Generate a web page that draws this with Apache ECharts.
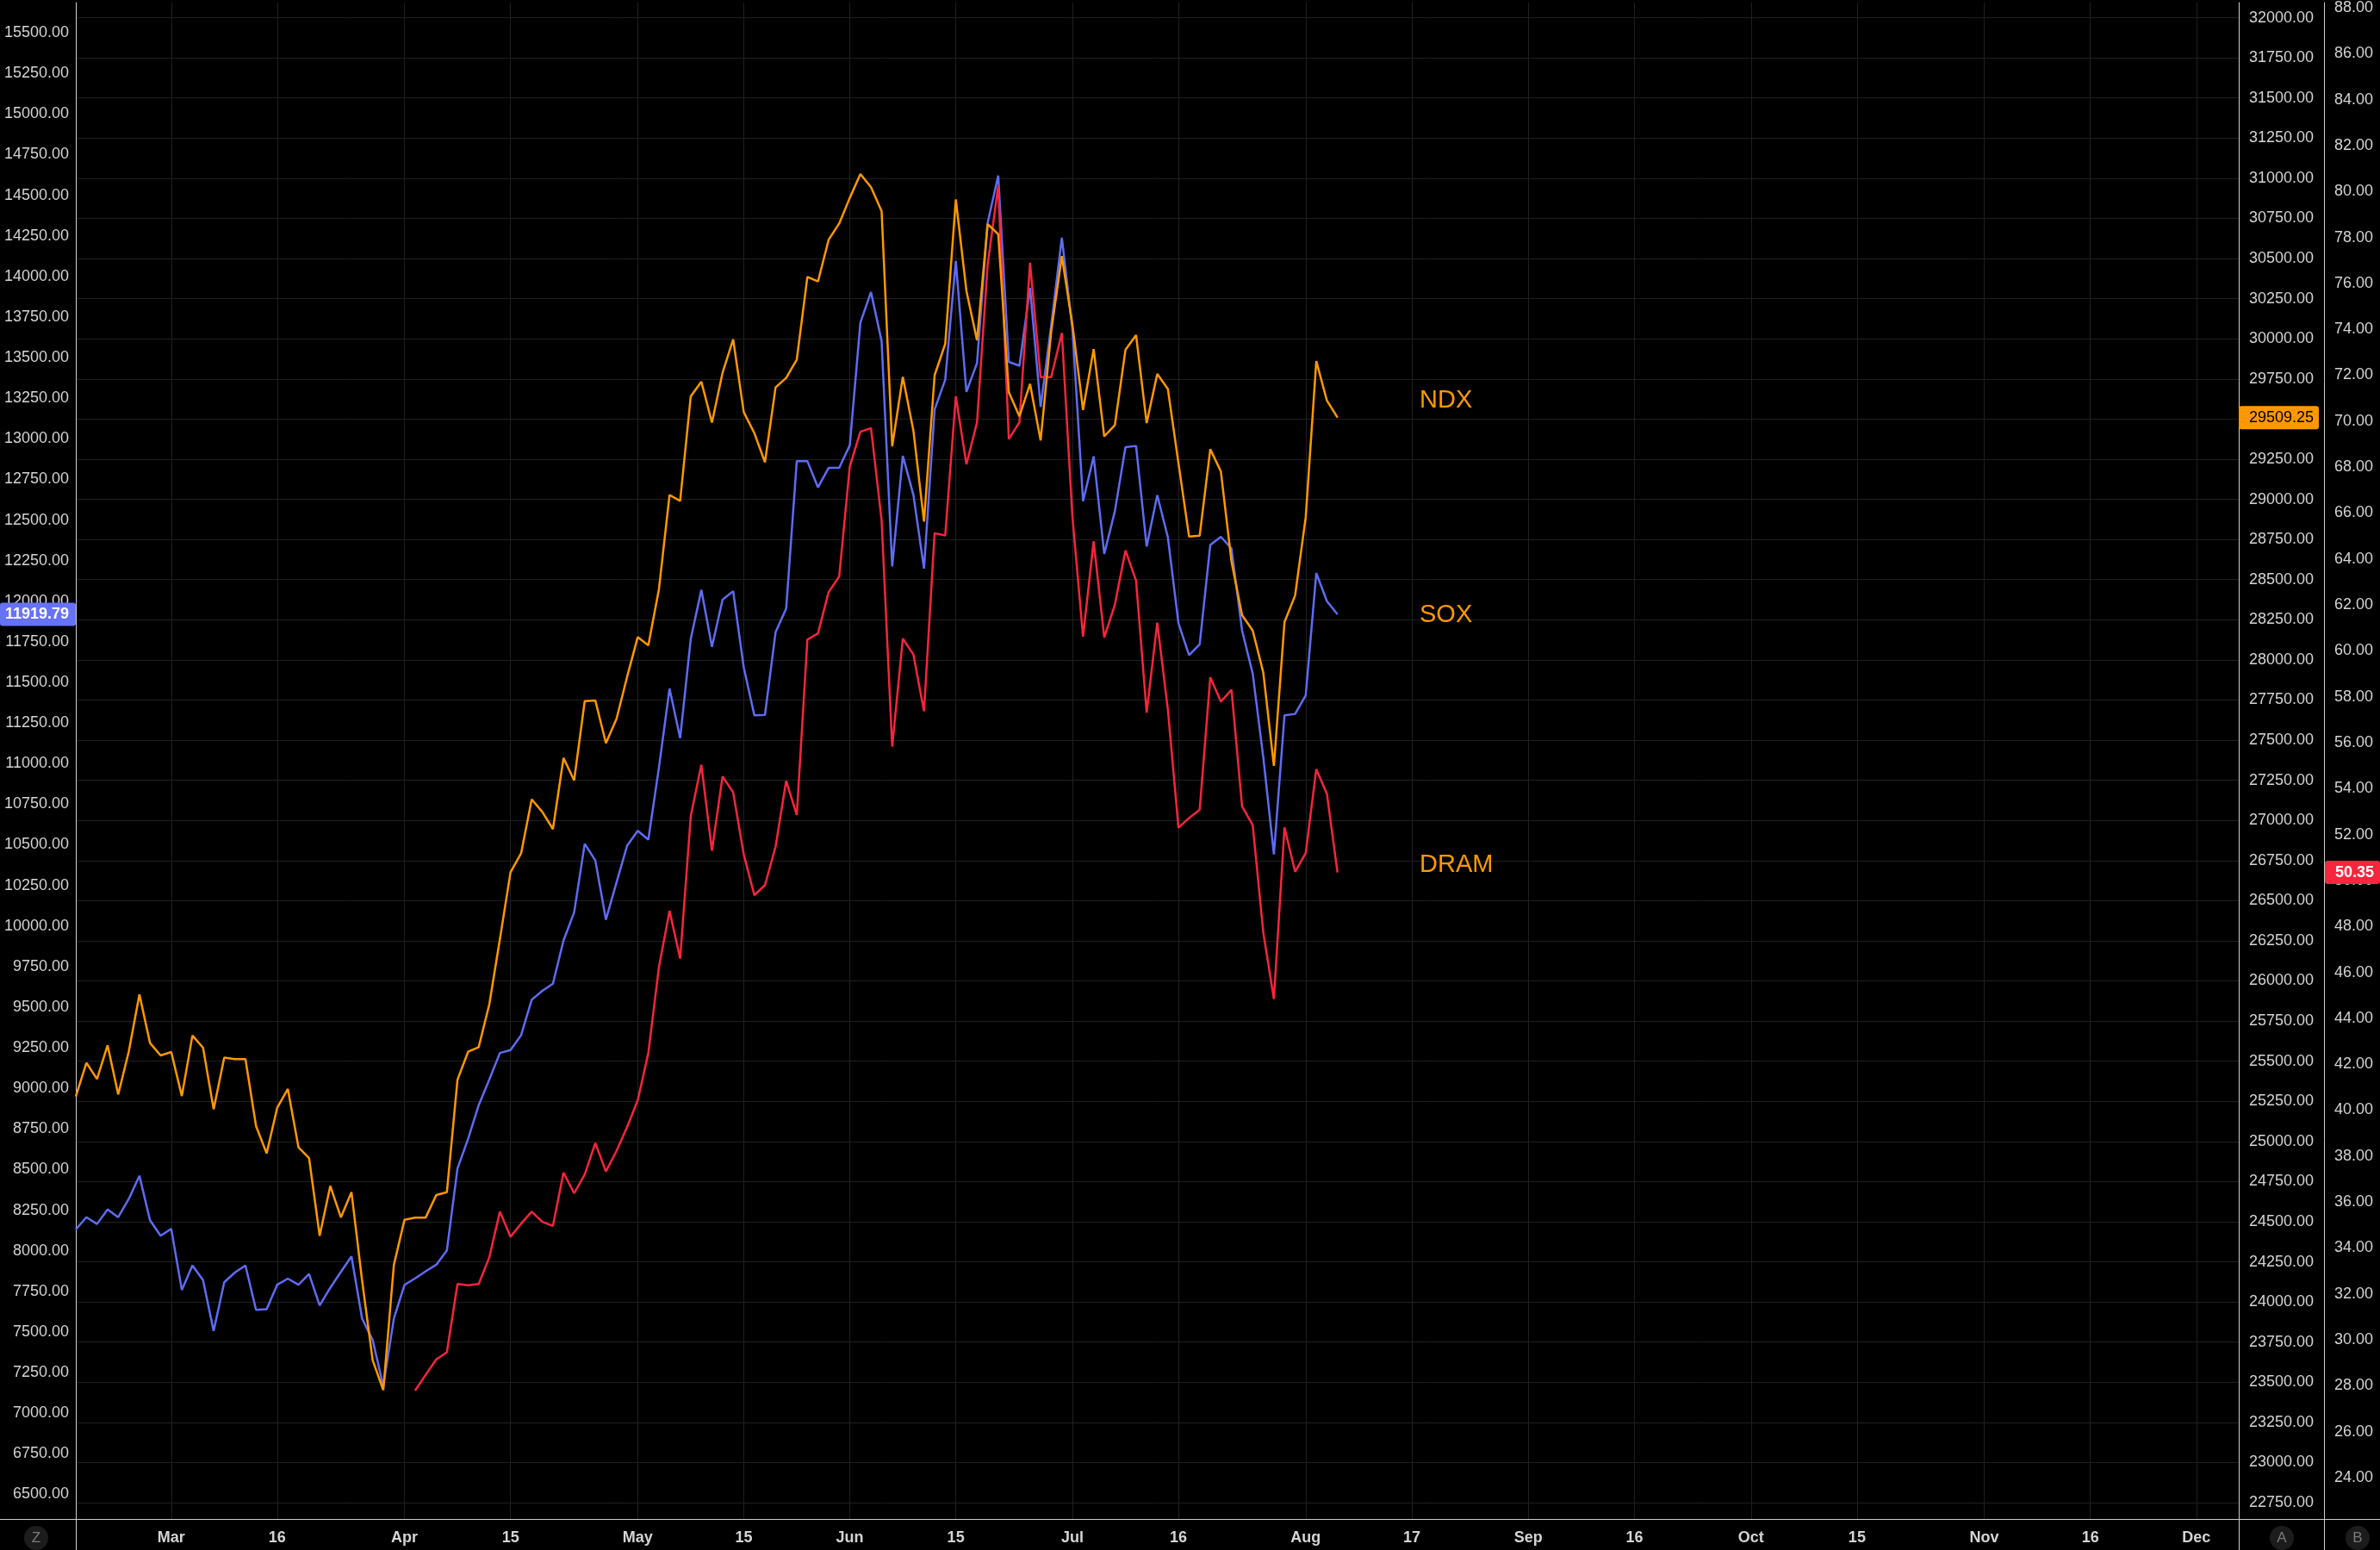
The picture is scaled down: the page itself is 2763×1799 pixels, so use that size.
<!DOCTYPE html>
<html>
<head>
<meta charset="utf-8">
<title>NDX / SOX / DRAM</title>
<script src="https://cdn.jsdelivr.net/npm/echarts@6/dist/echarts.min.js"></script>
<style>
  html, body { margin: 0; padding: 0; background: #000; }
  #main { width: 2763px; height: 1799px; }
</style>
</head>
<body>
<div id="main"></div>
<script>
// trading day index, 0 = first session of March
const firstDay = -9
const lastDay = 195
let days = []
for (let i = firstDay; i <= lastDay; i++) days.push(String(i))

// time scale labels (day index -> text)
const tickDays = [0, 10, 22, 32, 44, 54, 64, 74, 85, 95, 107, 117, 128, 138, 149, 159, 171, 181, 191]
const tickNames = ['Mar', '16', 'Apr', '15', 'May', '15', 'Jun', '15', 'Jul', '16', 'Aug', '17', 'Sep', '16', 'Oct', '15', 'Nov', '16', 'Dec']

// orange line, inner right scale (day -9 .. 110)
const ndx = [
  25280, 25490, 25389, 25599, 25293, 25561, 25915, 25613, 25536, 25557,
  25283, 25660, 25584, 25201, 25523, 25513, 25513, 25096, 24926, 25211,
  25327, 24964, 24897, 24413, 24723, 24527, 24684, 24135, 23637, 23452,
  24231, 24512, 24526, 24526, 24666, 24684, 25385, 25559, 25588, 25854,
  26260, 26677, 26795, 27131, 27053, 26946, 27389, 27249, 27743, 27747,
  27481, 27633, 27895, 28142, 28090, 28441, 29027, 28990, 29642, 29733,
  29478, 29789, 29996, 29543, 29412, 29231, 29697, 29756, 29871, 30386,
  30357, 30616, 30718, 30878, 31026, 30944, 30796, 29330, 29763, 29428,
  28861, 29773, 29968, 30868, 30298, 29991, 30714, 30652, 29667, 29517,
  29719, 29367, 30048, 30515, 30086, 29557, 29936, 29392, 29462, 29931,
  30023, 29475, 29781, 29687, 29225, 28768, 28774, 29312, 29173, 28613,
  28278, 28183, 27921, 27340, 28235, 28401, 28888, 29861, 29615, 29509.25
]

// blue line, left scale (day -9 .. 110)
const sox = [
  8131, 8207, 8165, 8254, 8207, 8320, 8462, 8188, 8093, 8135,
  7759, 7910, 7819, 7507, 7806, 7866, 7910, 7636, 7640, 7791,
  7829, 7791, 7857, 7664, 7772, 7870, 7965, 7583, 7450, 7167,
  7583, 7790, 7830, 7874, 7914, 8003, 8507, 8689, 8897, 9054,
  9218, 9236, 9328, 9546, 9601, 9645, 9911, 10083, 10506, 10404,
  10039, 10269, 10495, 10586, 10532, 10976, 11462, 11157, 11767, 12070,
  11719, 12010, 12062, 11592, 11297, 11300, 11809, 11955, 12863, 12863,
  12701, 12821, 12821, 12960, 13716, 13904, 13602, 12214, 12895, 12655,
  12201, 13180, 13363, 14096, 13289, 13467, 14330, 14621, 13474, 13450,
  13930, 13196, 13701, 14239, 13676, 12616, 12892, 12291, 12554, 12949,
  12956, 12337, 12653, 12394, 11864, 11668, 11734, 12347, 12397, 12325,
  11820, 11555, 11039, 10441, 11297, 11306, 11420, 12173, 12000, 11919.79
]

// red line, outer right scale (day 23 .. 110)
const dramStart = 23
const dram = [
  27.79, 28.48, 29.15, 29.46, 32.43, 32.38, 32.43, 33.59,
  35.58, 34.49, 35.06, 35.58, 35.14, 34.96, 37.28, 36.38, 37.20, 38.57,
  37.33, 38.23, 39.27, 40.43, 42.49, 46.23, 48.68, 46.60, 52.80, 55.04,
  51.30, 54.53, 53.84, 51.13, 49.36, 49.80, 51.47, 54.34, 52.85, 60.49,
  60.76, 62.55, 63.24, 68.03, 69.54, 69.70, 65.69, 55.83, 60.53, 59.84,
  57.37, 65.12, 65.02, 71.08, 68.12, 69.95, 76.80, 80.25, 69.22, 69.95,
  76.89, 71.92, 71.92, 73.84, 65.82, 60.62, 64.77, 60.58, 62.01, 64.37,
  63.06, 57.31, 61.23, 57.45, 52.30, 52.72, 53.08, 58.85, 57.79, 58.30,
  53.23, 52.41, 47.74, 44.84, 52.31, 50.38, 51.19, 54.85, 53.77, 50.35
]

// price scale ticks
function range(a, b, step) {
  let out = []
  for (let v = a; v <= b + 1e-9; v += step) out.push(v)
  return out
}
const leftTicks = range(6500, 15500, 250)
const rightTicks = range(22750, 32000, 250)
const dramTicks = range(24, 88, 2)

const ORANGE = '#FF9800'
const BLUE = '#5E6CF4'
const RED = '#F7253D'
const FONT = "'Liberation Sans', Arial, sans-serif"
const AXIS_TEXT = '#d4d4d4'
const BORDER = '#cfcfcf'
const GRID = '#1f1f1f'

const isTick = (idx, val) => tickDays.indexOf(Number(val)) >= 0

var chart = echarts.init(document.getElementById('main'), null, { renderer: 'canvas' })

function priceAxis(pos, offset, min, max, ticks, margin, gridLines) {
  return {
    type: 'value',
    position: pos,
    offset: offset,
    min: min,
    max: max,
    axisLine: { show: true, lineStyle: { color: BORDER, width: 1 } },
    axisTick: { show: false, customValues: ticks },
    axisLabel: {
      customValues: ticks,
      color: AXIS_TEXT,
      fontFamily: FONT,
      fontSize: 18,
      margin: margin,
      formatter: v => v.toFixed(2)
    },
    splitLine: { show: gridLines, lineStyle: { color: GRID, width: 1 } }
  }
}

var option = {
  backgroundColor: '#000',
  animation: false,
  grid: { left: 88, right: 164, top: 0, bottom: 36 },
  xAxis: {
    type: 'category',
    data: days,
    boundaryGap: false,
    axisLine: { show: true, lineStyle: { color: BORDER, width: 1 } },
    axisTick: { show: false },
    axisLabel: {
      interval: isTick,
      formatter: (val) => tickNames[tickDays.indexOf(Number(val))],
      color: AXIS_TEXT,
      fontFamily: FONT,
      fontWeight: 'bold',
      fontSize: 18,
      margin: 13
    },
    splitLine: { show: true, interval: isTick, lineStyle: { color: GRID, width: 1 } }
  },
  yAxis: [
    priceAxis('right', 0, 22648.4, 32094.3, rightTicks, 12, true),
    priceAxis('left', 0, 6348.5, 15686.4, leftTicks, 8, false),
    priceAxis('right', 99, 22.2, 88.225, dramTicks, 12, false)
  ],
  series: [
    {
      name: 'SOX', type: 'line', yAxisIndex: 1, data: sox,
      showSymbol: false, z: 2,
      lineStyle: { color: BLUE, width: 2.5 }, itemStyle: { color: BLUE }
    },
    {
      name: 'DRAM', type: 'line', yAxisIndex: 2,
      data: Array(dramStart - firstDay).fill(null).concat(dram),
      showSymbol: false, z: 3,
      lineStyle: { color: RED, width: 2.5 }, itemStyle: { color: RED }
    },
    {
      name: 'NDX', type: 'line', yAxisIndex: 0, data: ndx,
      showSymbol: false, z: 4,
      lineStyle: { color: ORANGE, width: 2.5 }, itemStyle: { color: ORANGE }
    }
  ]
}
chart.setOption(option)

// last value tags on the price scales + chart notes
const ndxLast = ndx[ndx.length - 1]
const soxLast = sox[sox.length - 1]
const dramLast = dram[dram.length - 1]
const yNdx = chart.convertToPixel({ yAxisIndex: 0 }, ndxLast)
const ySox = chart.convertToPixel({ yAxisIndex: 1 }, soxLast)
const yDram = chart.convertToPixel({ yAxisIndex: 2 }, dramLast)

function tag(x, y, w, bg, txt, color, align, tx, bold) {
  return [
    { type: 'rect', z: 100, shape: { x: x, y: y - 13.5, width: w, height: 27, r: 3 }, style: { fill: bg } },
    { type: 'text', z: 101, style: { text: txt, x: tx, y: y, fill: color,
      font: (bold ? 'bold ' : '') + '18px ' + FONT, textAlign: align, textVerticalAlign: 'middle' } }
  ]
}
function note(txt, y) {
  return { type: 'text', z: 50, style: { text: txt, x: 1648, y: y, fill: ORANGE,
    font: '29px ' + FONT, textAlign: 'left', textVerticalAlign: 'middle' } }
}
function vline(x) {
  return { type: 'line', z: 90, shape: { x1: x, y1: 1763, x2: x, y2: 1799 }, style: { stroke: BORDER, lineWidth: 1 } }
}
function roundBtn(cx, letter) {
  return [
    { type: 'circle', z: 90, shape: { cx: cx, cy: 1785, r: 14 }, style: { fill: '#1c1c1c' } },
    { type: 'text', z: 91, style: { text: letter, x: cx, y: 1785, fill: '#7a7a7a',
      font: '17px ' + FONT, textAlign: 'center', textVerticalAlign: 'middle' } }
  ]
}

chart.setOption({
  graphic: [
    { type: 'line', z: 90, shape: { x1: 0, y1: 1763.5, x2: 2763, y2: 1763.5 }, style: { stroke: BORDER, lineWidth: 1 } },
    vline(88.5), vline(2599.5), vline(2698.5),
    ...roundBtn(42, 'Z'), ...roundBtn(2649, 'A'), ...roundBtn(2737, 'B'),
    ...tag(2599, yNdx, 93, ORANGE, ndxLast.toFixed(2), '#000', 'left', 2611, false),
    ...tag(0, ySox, 88, '#6672F7', soxLast.toFixed(2), '#fff', 'right', 80, true),
    ...tag(2699, yDram, 64, RED, dramLast.toFixed(2), '#fff', 'left', 2711, true),
    note('NDX', 465), note('SOX', 714), note('DRAM', 1004)
  ]
})
</script>
</body>
</html>
